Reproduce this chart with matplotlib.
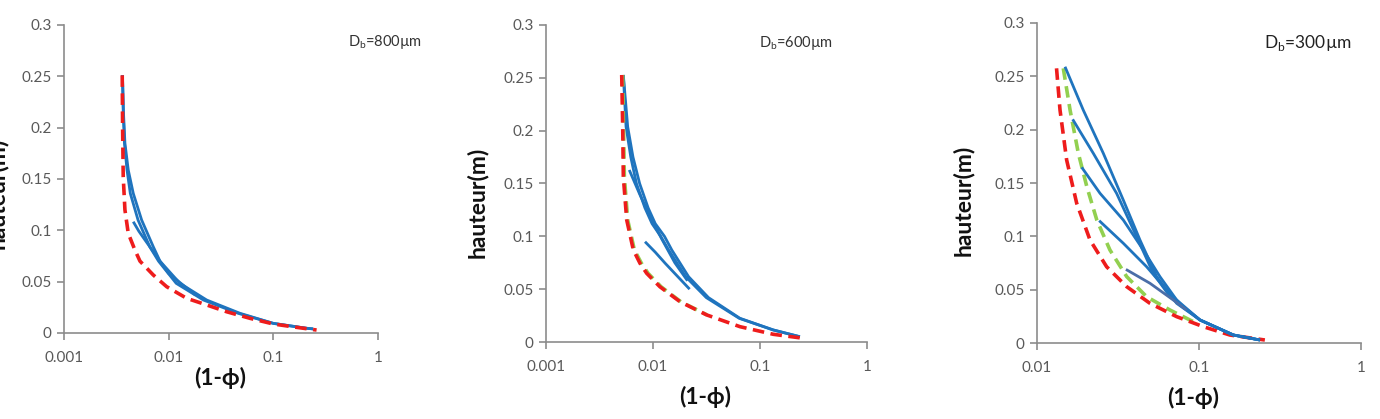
import matplotlib
matplotlib.use("Agg")
import matplotlib.pyplot as plt
from matplotlib.ticker import FixedLocator, FixedFormatter, NullLocator

plt.rcParams['font.family'] = ['Lato', 'DejaVu Sans']

# ---- Db = 800 um ----
red_800_x = [0.00360, 0.00363, 0.00368, 0.00382, 0.00411, 0.00476, 0.00532, 0.00713, 0.00957,
             0.01486, 0.0231, 0.0358, 0.0598, 0.0998, 0.167, 0.259]
red_800_y = [0.251, 0.201, 0.152, 0.120, 0.0971, 0.0808, 0.0700, 0.0565, 0.0451,
             0.0338, 0.0273, 0.0207, 0.0143, 0.0088, 0.0055, 0.0029]
blue_800_a_x = [0.00362, 0.00370, 0.00382, 0.00411, 0.00459, 0.00552, 0.00713, 0.00826, 0.0128,
                0.0231, 0.048, 0.0998, 0.208, 0.24]
blue_800_a_y = [0.251, 0.215, 0.185, 0.1588, 0.136, 0.110, 0.084, 0.0700, 0.0484,
                0.0321, 0.0192, 0.0094, 0.0046, 0.0040]
blue_800_b_x = [0.00362, 0.00368, 0.00378, 0.00400, 0.00430, 0.00510, 0.00660, 0.00800, 0.0118,
                0.0215, 0.046, 0.0998, 0.208, 0.24]
blue_800_b_y = [0.251, 0.215, 0.185, 0.1588, 0.136, 0.110, 0.084, 0.0700, 0.0484,
                0.0321, 0.0192, 0.0094, 0.0046, 0.0040]
blue_800_c_x = [0.00459, 0.00520, 0.00594, 0.00750, 0.0100, 0.0180]
blue_800_c_y = [0.1084, 0.0990, 0.0906, 0.0760, 0.0580, 0.0370]

# ---- Db = 600 um ----
red_600_x = [0.0051, 0.00521, 0.00528, 0.00568, 0.00655, 0.00756, 0.00873, 0.0116, 0.0179,
             0.0318, 0.065, 0.133, 0.254]
red_600_y = [0.2527, 0.2037, 0.1564, 0.1155, 0.0871, 0.0745, 0.065, 0.0523, 0.0381,
             0.0256, 0.0145, 0.0073, 0.0035]
green_600_x = [0.0052, 0.0053, 0.0054, 0.0058, 0.0067, 0.0078, 0.0090, 0.0119, 0.0182, 0.0320]
green_600_y = [0.2527, 0.2037, 0.1564, 0.1155, 0.0871, 0.0745, 0.065, 0.0523, 0.0381, 0.0256]
blue_600_a_x = [0.00528, 0.0058, 0.0065, 0.0075, 0.0090, 0.0105, 0.0128, 0.0150, 0.0215,
                0.0330, 0.065, 0.133, 0.236]
blue_600_a_y = [0.2527, 0.2037, 0.175, 0.150, 0.127, 0.112, 0.100, 0.087, 0.0618,
                0.042, 0.0224, 0.0114, 0.0050]
blue_600_b_x = [0.00528, 0.0056, 0.0062, 0.0070, 0.0084, 0.0098, 0.0118, 0.0140, 0.0202,
                0.0315, 0.064, 0.133, 0.236]
blue_600_b_y = [0.2527, 0.2037, 0.175, 0.150, 0.127, 0.112, 0.100, 0.087, 0.0618,
                0.042, 0.0224, 0.0114, 0.0050]
blue_600_c_x = [0.0060, 0.0075, 0.0095, 0.0120, 0.0160, 0.0210]
blue_600_c_y = [0.1628, 0.1400, 0.1180, 0.0980, 0.0750, 0.0580]
blue_600_d_x = [0.00842, 0.0105, 0.0130, 0.0170, 0.0220]
blue_600_d_y = [0.0949, 0.0850, 0.0745, 0.0620, 0.0500]

# ---- Db = 300 um ----
red_300_x = [0.0132, 0.01387, 0.01524, 0.01758, 0.02124, 0.0269, 0.0358, 0.0498, 0.0728,
             0.1064, 0.155, 0.255]
red_300_y = [0.2575, 0.2184, 0.1716, 0.131, 0.0966, 0.0715, 0.0528, 0.0372, 0.0247,
             0.0153, 0.0075, 0.0028]
green_300_x = [0.01453, 0.0160, 0.0180, 0.0203, 0.0234, 0.0282, 0.0358, 0.0475, 0.0662, 0.0922]
green_300_y = [0.2575, 0.2184, 0.1778, 0.1466, 0.1153, 0.0872, 0.0622, 0.0434, 0.0309, 0.0200]
blue_300_1_x = [0.01489, 0.0193, 0.02567, 0.0341, 0.0432, 0.0548, 0.0728, 0.1014, 0.163, 0.238]
blue_300_1_y = [0.259, 0.2184, 0.1778, 0.134, 0.0966, 0.0622, 0.0372, 0.0216, 0.0075, 0.0028]
blue_300_2_x = [0.0166, 0.02227, 0.031, 0.0412, 0.0522, 0.0662, 0.1014, 0.163, 0.238]
blue_300_2_y = [0.2097, 0.1778, 0.1403, 0.0997, 0.0653, 0.0434, 0.0216, 0.0075, 0.0028]
blue_300_3_x = [0.01888, 0.0245, 0.0341, 0.0453, 0.0574, 0.0728, 0.1014, 0.163, 0.238]
blue_300_3_y = [0.1647, 0.1403, 0.1153, 0.0872, 0.0622, 0.0403, 0.0216, 0.0075, 0.0028]
blue_300_4_x = [0.0242, 0.0341, 0.0475, 0.0631, 0.080, 0.1014, 0.163, 0.238]
blue_300_4_y = [0.1147, 0.0935, 0.0715, 0.0497, 0.034, 0.0216, 0.0075, 0.0028]
blue_300_5_x = [0.0354, 0.0498, 0.0694, 0.0839]
blue_300_5_y = [0.069, 0.056, 0.0403, 0.0309]

y_ticks = [0, 0.05, 0.1, 0.15, 0.2, 0.25, 0.3]
y_labels = ['0', '0.05', '0.1', '0.15', '0.2', '0.25', '0.3']

BLUE = '#1f74be'
BLUE2 = '#4a6ea8'
RED = '#ee1c1c'
GREEN = '#92d050'
GREY = '#595959'

W, H = 1380, 419
fig = plt.figure(figsize=(13.8, 4.19), dpi=100)


def style_axes(ax, xmin, xticks, xlabels):
    ax.set_xscale('log')
    ax.set_xlim(xmin, 1)
    ax.set_ylim(0, 0.3)
    ax.xaxis.set_major_locator(FixedLocator(xticks))
    ax.xaxis.set_major_formatter(FixedFormatter(xlabels))
    ax.xaxis.set_minor_locator(NullLocator())
    ax.yaxis.set_major_locator(FixedLocator(y_ticks))
    ax.yaxis.set_major_formatter(FixedFormatter(y_labels))
    for s in ['top', 'right']:
        ax.spines[s].set_visible(False)
    for s in ['left', 'bottom']:
        ax.spines[s].set_color('#8c8c8c')
        ax.spines[s].set_linewidth(1.2)
    ax.tick_params(colors='#8c8c8c', labelcolor=GREY, labelsize=11, length=5, width=1.2)
    ax.tick_params(axis='x', pad=8)
    ax.tick_params(axis='y', pad=4)


def dashed(ax, x, y, color):
    ax.plot(x, y, color=color, lw=2.6, dashes=(3.2, 1.8))


def solid(ax, x, y, color=BLUE):
    ax.plot(x, y, color=color, lw=2.0, solid_capstyle='butt', solid_joinstyle='round')


def px_text(x, y, s, **kw):
    fig.text(x / W, 1 - y / H, s, **kw)


# panel 1
ax1 = fig.add_axes([64 / W, 1 - 333 / H, 314 / W, 308 / H])
solid(ax1, blue_800_a_x, blue_800_a_y)
solid(ax1, blue_800_b_x, blue_800_b_y)
solid(ax1, blue_800_c_x, blue_800_c_y)
dashed(ax1, red_800_x, red_800_y, RED)
style_axes(ax1, 0.001, [0.001, 0.01, 0.1, 1], ['0.001', '0.01', '0.1', '1'])

# panel 2
ax2 = fig.add_axes([546 / W, 1 - 342 / H, 321 / W, 317 / H])
solid(ax2, blue_600_a_x, blue_600_a_y)
solid(ax2, blue_600_b_x, blue_600_b_y)
solid(ax2, blue_600_c_x, blue_600_c_y)
solid(ax2, blue_600_d_x, blue_600_d_y)
dashed(ax2, green_600_x, green_600_y, GREEN)
dashed(ax2, red_600_x, red_600_y, RED)
style_axes(ax2, 0.001, [0.001, 0.01, 0.1, 1], ['0.001', '0.01', '0.1', '1'])

# panel 3
ax3 = fig.add_axes([1037 / W, 1 - 343 / H, 324 / W, 320 / H])
dashed(ax3, green_300_x, green_300_y, GREEN)
dashed(ax3, red_300_x, red_300_y, RED)
solid(ax3, blue_300_1_x, blue_300_1_y)
solid(ax3, blue_300_2_x, blue_300_2_y)
solid(ax3, blue_300_3_x, blue_300_3_y)
solid(ax3, blue_300_4_x, blue_300_4_y)
solid(ax3, blue_300_5_x, blue_300_5_y, BLUE2)
style_axes(ax3, 0.01, [0.01, 0.1, 1], ['0.01', '0.1', '1'])

# bubble diameter notes
px_text(385, 42, r'D$_\mathregular{b}$=800µm', ha='center', va='center', fontsize=10.5, color='#333333')
px_text(796, 43, r'D$_\mathregular{b}$=600µm', ha='center', va='center', fontsize=10.5, color='#333333')
px_text(1308, 43, r'D$_\mathregular{b}$=300µm', ha='center', va='center', fontsize=12.5, color='#222222')

# axis titles
lab = dict(fontsize=16.5, fontweight='bold', color='#111111', ha='center', va='center')
px_text(220, 378, '(1-ϕ)', **lab)
px_text(705, 397, '(1-ϕ)', **lab)
px_text(1193, 398, '(1-ϕ)', **lab)
px_text(-3, 193, 'hauteur(m)', rotation=90, **lab)
px_text(477, 202, 'hauteur(m)', rotation=90, **lab)
px_text(963, 200, 'hauteur(m)', rotation=90, **lab)

fig.savefig('out.png', dpi=100)
